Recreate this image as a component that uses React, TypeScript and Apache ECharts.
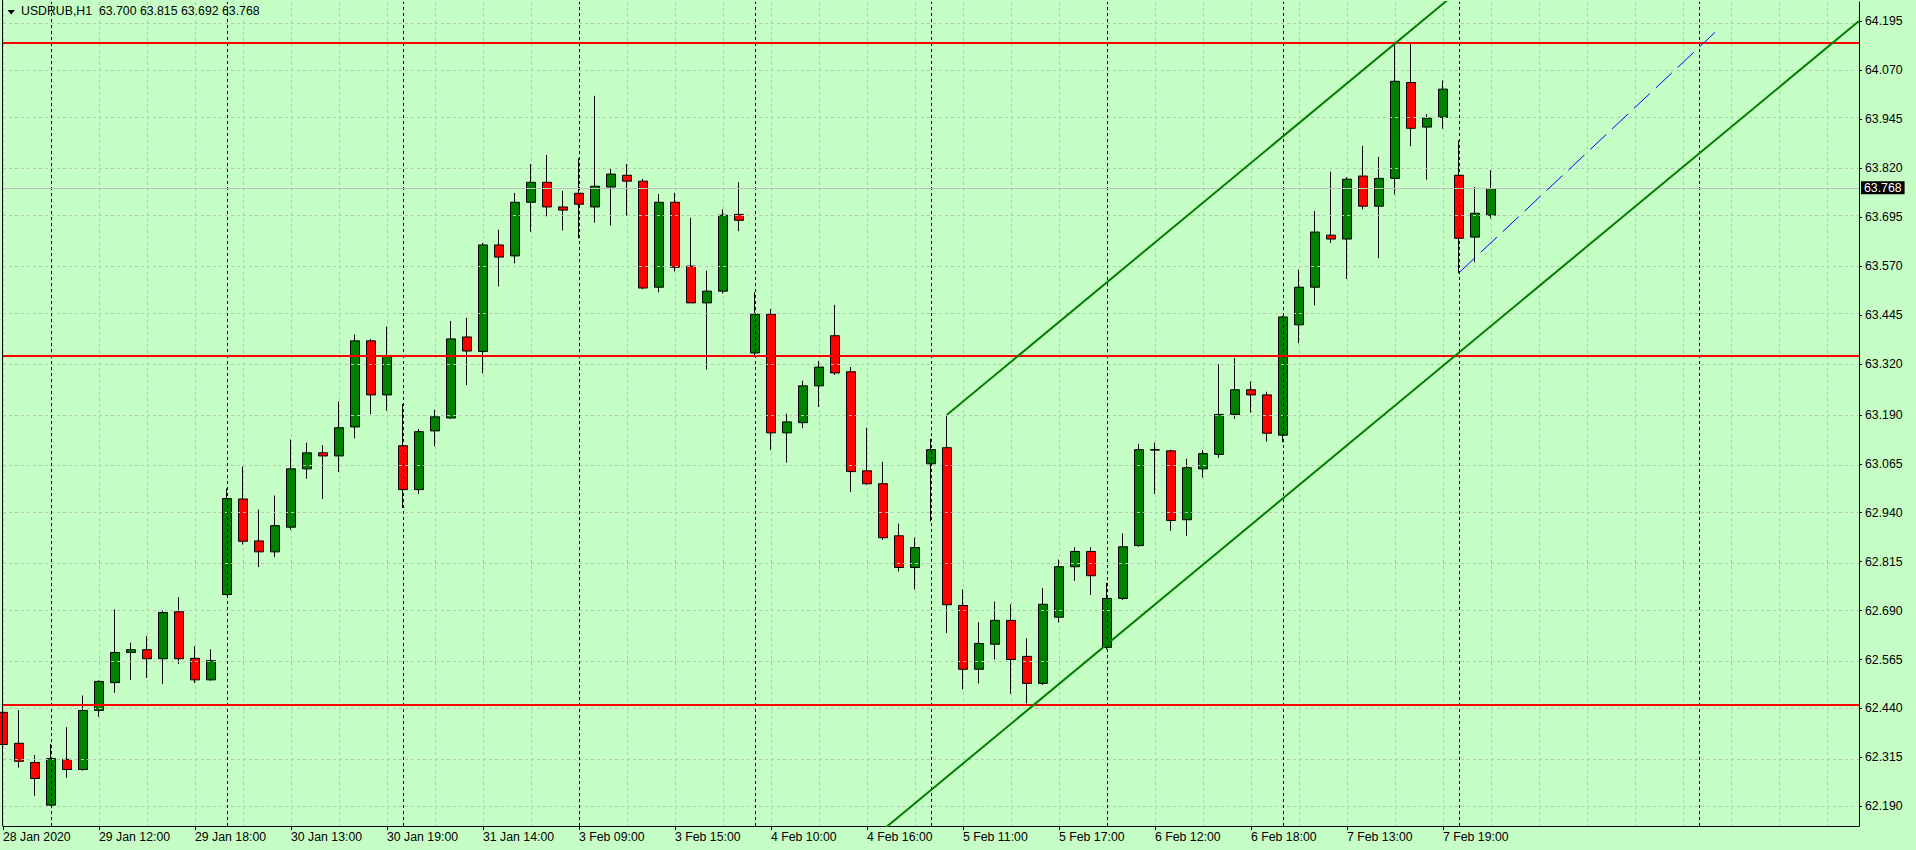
import React, { useEffect, useRef } from 'react';
import * as echarts from 'echarts';

// ---- Data (USDRUB, H1) ----
const opens = [
  62.430, 62.351, 62.302, 62.193, 62.310, 62.284, 62.435, 62.506, 62.583, 62.590,
  62.567, 62.687, 62.568, 62.513, 62.731, 62.975, 62.868, 62.840, 62.903, 63.052,
  63.093, 63.085, 63.159, 63.379, 63.241, 63.111, 62.999, 63.149, 63.182, 63.389,
  63.352, 63.624, 63.596, 63.733, 63.784, 63.721, 63.756, 63.721, 63.772, 63.802,
  63.787, 63.516, 63.733, 63.570, 63.476, 63.506, 63.702, 63.348, 63.447, 63.144,
  63.170, 63.264, 63.392, 63.300, 63.047, 63.014, 62.881, 62.800, 63.065, 63.106,
  62.703, 62.540, 62.604, 62.665, 62.573, 62.504, 62.673, 62.802, 62.841, 62.596,
  62.721, 62.856, 63.101, 63.098, 62.922, 63.052, 63.089, 63.191, 63.254, 63.241,
  63.138, 63.420, 63.516, 63.649, 63.639, 63.800, 63.723, 63.794, 64.039, 63.925,
  63.950, 63.802, 63.644, 63.700,
];
const highs = [
  62.453, 62.436, 62.321, 62.349, 62.392, 62.473, 62.512, 62.693, 62.608, 62.625,
  62.690, 62.724, 62.599, 62.591, 63.002, 63.058, 62.948, 62.984, 63.127, 63.119,
  63.112, 63.224, 63.395, 63.384, 63.415, 63.218, 63.154, 63.203, 63.430, 63.438,
  63.629, 63.663, 63.757, 63.831, 63.854, 63.762, 63.846, 64.005, 63.821, 63.831,
  63.793, 63.754, 63.757, 63.693, 63.558, 63.715, 63.784, 63.503, 63.460, 63.193,
  63.277, 63.328, 63.471, 63.312, 63.157, 63.070, 62.912, 62.876, 63.129, 63.190,
  62.744, 62.660, 62.713, 62.706, 62.619, 62.747, 62.820, 62.852, 62.852, 62.761,
  62.887, 63.116, 63.119, 63.101, 63.078, 63.100, 63.319, 63.335, 63.275, 63.249,
  63.443, 63.561, 63.711, 63.811, 63.797, 63.877, 63.849, 64.143, 64.139, 63.958,
  64.044, 63.891, 63.772, 63.815,
];
const lows = [
  62.255, 62.289, 62.217, 62.191, 62.263, 62.281, 62.419, 62.480, 62.513, 62.518,
  62.503, 62.554, 62.505, 62.511, 62.729, 62.859, 62.801, 62.827, 62.896, 63.027,
  62.975, 63.044, 63.130, 63.192, 63.201, 62.952, 62.988, 63.110, 63.180, 63.266,
  63.296, 63.518, 63.577, 63.658, 63.697, 63.661, 63.641, 63.681, 63.674, 63.699,
  63.511, 63.503, 63.556, 63.476, 63.306, 63.500, 63.659, 63.340, 63.100, 63.068,
  63.156, 63.210, 63.292, 62.993, 63.011, 62.871, 62.790, 62.744, 62.917, 62.633,
  62.489, 62.504, 62.565, 62.478, 62.453, 62.500, 62.660, 62.766, 62.730, 62.591,
  62.717, 62.853, 62.988, 62.894, 62.881, 63.030, 63.080, 63.180, 63.196, 63.122,
  63.120, 63.373, 63.470, 63.629, 63.537, 63.715, 63.590, 63.753, 63.876, 63.791,
  63.921, 63.552, 63.580, 63.692,
];
const closes = [
  62.348, 62.305, 62.261, 62.312, 62.284, 62.435, 62.509, 62.583, 62.590, 62.567,
  62.685, 62.567, 62.513, 62.562, 62.976, 62.867, 62.840, 62.907, 63.052, 63.093,
  63.085, 63.157, 63.379, 63.241, 63.340, 62.999, 63.147, 63.185, 63.384, 63.353,
  63.624, 63.593, 63.733, 63.784, 63.721, 63.713, 63.728, 63.774, 63.805, 63.787,
  63.514, 63.733, 63.567, 63.476, 63.506, 63.700, 63.687, 63.447, 63.144, 63.172,
  63.264, 63.312, 63.297, 63.045, 63.014, 62.876, 62.800, 62.851, 63.101, 62.705,
  62.540, 62.606, 62.665, 62.565, 62.504, 62.706, 62.802, 62.841, 62.779, 62.721,
  62.853, 63.101, 63.100, 62.920, 63.055, 63.091, 63.191, 63.254, 63.241, 63.143,
  63.440, 63.516, 63.657, 63.639, 63.792, 63.723, 63.794, 64.042, 63.922, 63.948,
  64.022, 63.641, 63.705, 63.768,
];

const totalSlots = 117; // bars incl. empty future space to the right edge

const xLabelIndex = [0, 6, 12, 18, 24, 30, 36, 42, 48, 54, 60, 66, 72, 78, 84, 90];
const xLabelText = [
  '28 Jan 2020', '29 Jan 12:00', '29 Jan 18:00', '30 Jan 13:00', '30 Jan 19:00',
  '31 Jan 14:00', '3 Feb 09:00', '3 Feb 15:00', '4 Feb 10:00', '4 Feb 16:00',
  '5 Feb 11:00', '5 Feb 17:00', '6 Feb 12:00', '6 Feb 18:00', '7 Feb 13:00', '7 Feb 19:00',
];

const yTicks = [
  62.190, 62.315, 62.440, 62.565, 62.690, 62.815, 62.940, 63.065, 63.190,
  63.320, 63.445, 63.570, 63.695, 63.820, 63.945, 64.070, 64.195,
];

const daySeparators = [3, 14, 25, 36, 47, 58, 69, 80, 91, 106];
const horizontalLevels = [64.141, 63.345, 62.447];
const lastPrice = 63.768;
const channelLower = [[55, 62.130], [116, 64.196]];
const channelUpper = [[59, 63.190], [91, 64.274]];
const blueDashed = [[91, 63.553], [107, 64.167]];

const headerText = 'USDRUB,H1  63.700 63.815 63.692 63.768';

const Y_MIN = 62.1397;
const Y_MAX = 64.2446;
const FONT = '"Liberation Sans", Arial, sans-serif';
const FS = 12.3;

export default function App() {
  const ref = useRef<HTMLDivElement>(null);

  useEffect(() => {
    if (!ref.current) return;
    const chart = echarts.init(ref.current, null, { renderer: 'svg' });

    const categories = Array.from({ length: totalSlots }, (_, i) => String(i));
    const labelMap: Record<number, string> = {};
    xLabelIndex.forEach((idx, k) => { labelMap[idx] = xLabelText[k]; });
    const isLabel = (i: number) => labelMap[i] !== undefined;

    const candles = opens.map((o, i) => [o, closes[i], lows[i], highs[i]]);

    const option: any = {
      animation: false,
      backgroundColor: '#C6FFC6',
      textStyle: { fontFamily: FONT },
      grid: { left: 3, right: 57, top: 2, bottom: 24, show: false },
      xAxis: {
        type: 'category',
        data: categories,
        boundaryGap: false,
        axisLine: { show: true, onZero: false, lineStyle: { color: '#000', width: 1 } },
        axisTick: { show: true, interval: (i: number) => isLabel(i), length: 4, lineStyle: { color: '#000' } },
        axisLabel: {
          interval: (i: number) => isLabel(i),
          formatter: (_v: string, i: number) => labelMap[i] ?? '',
          align: 'left',
          color: '#000',
          fontFamily: FONT,
          fontSize: FS,
          margin: 5,
        },
        splitLine: {
          show: true,
          interval: (i: number) => i % 3 === 0,
          lineStyle: { color: '#C0C0C0', type: [3, 3], width: 1 },
        },
      },
      yAxis: {
        type: 'value',
        position: 'right',
        min: Y_MIN,
        max: Y_MAX,
        axisLine: { show: true, lineStyle: { color: '#000', width: 1 } },
        axisTick: { show: true, length: 3, customValues: yTicks, lineStyle: { color: '#000' } },
        axisLabel: {
          customValues: yTicks,
          formatter: (v: number) => v.toFixed(3),
          color: '#000',
          fontFamily: FONT,
          fontSize: FS,
          margin: 6,
        },
        splitLine: { show: false },
      },
      series: [
        {
          name: 'grid',
          type: 'line',
          data: [],
          z: 1,
          silent: true,
          markLine: {
            silent: true,
            symbol: ['none', 'none'],
            label: { show: false },
            animation: false,
            data: [
              ...yTicks.map((v) => ({ yAxis: v, lineStyle: { color: '#C0C0C0', type: [3, 3], width: 1 } })),
              ...daySeparators.map((i) => ({ xAxis: i, lineStyle: { color: '#000', type: [3, 3], width: 1 } })),
              {
                yAxis: lastPrice,
                lineStyle: { color: '#C0C0C0', type: 'solid', width: 1 },
                label: {
                  show: true,
                  position: 'end',
                  formatter: lastPrice.toFixed(3),
                  color: '#fff',
                  backgroundColor: '#000',
                  padding: [1, 3, 0, 3],
                  distance: 2,
                  fontFamily: FONT,
                  fontSize: FS,
                },
              },
            ],
          },
        },
        {
          name: 'USDRUB',
          type: 'candlestick',
          data: candles,
          barWidth: 10,
          z: 3,
          clip: true,
          itemStyle: {
            color: '#008000',
            color0: '#FF0000',
            borderColor: '#000',
            borderColor0: '#000',
            borderColorDoji: '#000',
            borderWidth: 1,
          },
        },
        {
          name: 'levels',
          type: 'line',
          data: [],
          z: 5,
          silent: true,
          markLine: {
            silent: true,
            symbol: ['none', 'none'],
            label: { show: false },
            data: horizontalLevels.map((v) => ({ yAxis: v, lineStyle: { color: '#FF0000', type: 'solid', width: 2 } })),
          },
        },
        {
          name: 'channelLower',
          type: 'line',
          data: channelLower,
          symbol: 'none',
          z: 5,
          clip: true,
          silent: true,
          lineStyle: { color: '#007F00', width: 2 },
        },
        {
          name: 'channelUpper',
          type: 'line',
          data: channelUpper,
          symbol: 'none',
          z: 5,
          clip: true,
          silent: true,
          lineStyle: { color: '#007F00', width: 2 },
        },
        {
          name: 'blue',
          type: 'line',
          data: blueDashed,
          symbol: 'none',
          z: 5,
          clip: true,
          silent: true,
          lineStyle: { color: '#0000FF', width: 1, type: [22, 8] },
        },
      ],
      graphic: [
        {
          type: 'line',
          shape: { x1: 2.5, y1: 0, x2: 2.5, y2: 826 },
          style: { stroke: '#000', lineWidth: 1 },
          z: 10,
        },
        {
          type: 'polygon',
          shape: { points: [[7.5, 10], [15, 10], [11.25, 14.5]] },
          style: { fill: '#000' },
          z: 10,
        },
        {
          type: 'text',
          left: 21,
          top: 5,
          z: 10,
          style: { text: headerText, fill: '#000', font: FS + 'px ' + FONT },
        },
      ],
    };

    chart.setOption(option);
    return () => chart.dispose();
  }, []);

  return (
    <div
      ref={ref}
      style={{ position: 'fixed', left: 0, top: 0, width: 1916, height: 850 }}
    />
  );
}
